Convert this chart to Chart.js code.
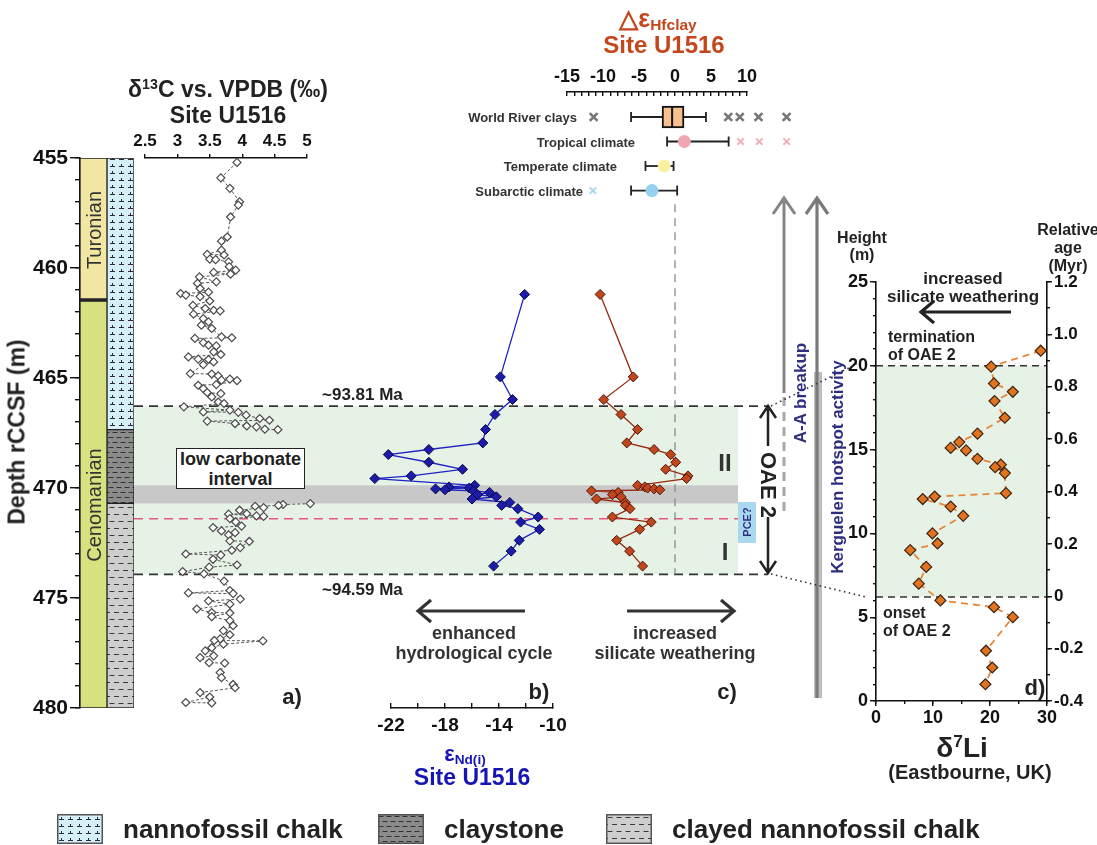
<!DOCTYPE html>
<html>
<head>
<meta charset="utf-8">
<script src="https://cdn.jsdelivr.net/npm/chart.js@4.4.1/dist/chart.umd.min.js"></script>
<style>
  html, body { margin: 0; padding: 0; background: #fff; }
  #stage { position: relative; width: 1097px; height: 845px; overflow: hidden;
           font-family: "Liberation Sans", Arial, sans-serif; color: #222; }
  #stage canvas, #stage svg { position: absolute; left: 0; top: 0; }
  .note { position: absolute; white-space: nowrap; line-height: 1; }
  .note sup { font-size: 0.62em; vertical-align: 0.55em; line-height: 0; }
  .note sub { font-size: 0.62em; vertical-align: -0.25em; line-height: 0; }
  .lowc { position: absolute; left: 176px; top: 448px; width: 127px; height: 39px; border: 1.6px solid #222;
          background: #fff; font-weight: bold; font-size: 18px; line-height: 20px; text-align: center; }
  .pce { position: absolute; left: 738px; top: 502px; width: 18px; height: 41px; background: #a9d8ef; }
</style>
</head>
<body>
<div id="stage">
  <canvas id="zones" width="1097" height="845"></canvas>
  <canvas id="lith" width="1097" height="845"></canvas>
  <canvas id="c13" width="1097" height="845"></canvas>
  <canvas id="ndAxis" width="1097" height="845"></canvas>
  <canvas id="nd" width="1097" height="845"></canvas>
  <canvas id="hf" width="1097" height="845"></canvas>
  <canvas id="hfAxis" width="1097" height="845"></canvas>
  <canvas id="clays" width="1097" height="845"></canvas>
  <canvas id="li" width="1097" height="845"></canvas>
  <svg width="1097" height="845">
    <g fill="none">
      <!-- panel b / c direction arrows -->
      <path d="M525 611H419 M431 600L418 611L431 622" stroke="#333" stroke-width="3.2"/>
      <path d="M627 611H733 M721 600L734 611L721 622" stroke="#333" stroke-width="3.2"/>
      <!-- panel d arrow -->
      <path d="M1011 312H922 M934 301L921 312L934 323" stroke="#222" stroke-width="3.2"/>
      <!-- OAE 2 bracket -->
      <path d="M768 446V409 M760 418L768 406L776 418" stroke="#222" stroke-width="2.5"/>
      <path d="M768 517V571 M760 561L768 573L776 561" stroke="#222" stroke-width="2.5"/>
      <!-- A-A breakup -->
      <path d="M784 393V200 M773 214L784 198L795 214" stroke="#858585" stroke-width="3"/>
      <path d="M784 397V517" stroke="#a8a8a8" stroke-width="3" stroke-dasharray="9 6"/>
      <!-- Kerguelen hotspot activity -->
      <rect x="814" y="372" width="8" height="326" fill="#bdbdbd"/>
      <path d="M817 698V200 M806 214L817 198L828 214" stroke="#7a7a7a" stroke-width="3.2"/>
      <!-- connectors to panel d -->
      <path d="M771 406L857 364 M771 574L866 597" stroke="#333" stroke-width="1.6" stroke-dasharray="1.5 3.5"/>
    </g>
  </svg>
  <div class="lowc">low carbonate<br>interval</div>
  <div class="pce"></div>
</div>
<script>
// ---- data ----
// lithology column (depth rCCSF, m)
const stageNames = ["Turonian", "Cenomanian"];
const stageTop = [455, 461.5];
const stageBase = [461.5, 480];
const lithNames = ["nannofossil chalk", "claystone", "clayed nannofossil chalk"];
const lithTop = [455, 467.35, 470.7];
const lithBase = [467.35, 470.7, 480];

// intervals
const oaeTop = 466.28;      // ~93.81 Ma
const oaeBase = 473.93;     // ~94.59 Ma
const lowCarbTop = 469.88;
const lowCarbBase = 470.7;
const pceDepth = 471.4;

// a) d13C
const c13Depth = [455.2, 455.9, 456.38, 456.99, 457.14, 457.68, 458.59, 458.78, 459.19, 459.38, 459.41, 459.6,
  459.62, 459.72, 459.94, 460.1, 460.2, 460.28, 460.4, 460.63, 460.7, 460.93, 461.1, 461.16, 461.23, 461.3,
  461.5, 461.7, 461.84, 461.92, 461.95, 462.1, 462.3, 462.45, 462.6, 462.75, 463.13, 463.17, 463.2, 463.39,
  463.51, 463.54, 463.81, 463.93, 464.04, 464.14, 464.16, 464.27, 464.39, 464.8, 464.82, 464.9, 465.05, 465.1,
  465.12, 465.3, 465.33, 465.48, 465.66, 465.71, 465.86, 466.09, 466.16, 466.31, 466.46, 466.54, 466.56, 466.69,
  466.84, 466.92, 466.96, 467.07, 467.18, 467.22, 467.33, 467.35,
  469,
  470.71, 470.75, 470.79, 470.83, 470.89, 471.01, 471.17, 471.19, 471.27, 471.29, 471.39, 471.54, 471.73, 471.8,
  471.95, 472.03, 472.13, 472.4, 472.43, 472.71, 472.83, 473.0, 473.05, 473.24, 473.5, 473.6, 473.8, 473.9,
  474.23, 474.66, 474.77, 474.8, 475.05, 475.13, 475.28, 475.5, 475.66, 475.68, 475.85, 476.03, 476.26, 476.48,
  476.67, 476.86, 476.93, 476.95, 477.1, 477.26, 477.4, 477.63, 477.71, 477.94, 477.96, 478.39, 478.62, 478.93,
  479.08, 479.3, 479.5, 479.75, 479.77];
const c13Value = [3.92, 3.67, 3.81, 3.96, 3.94, 3.82, 3.77, 3.68, 3.68, 3.46, 3.72, 3.50,
  3.59, 3.79, 3.80, 3.90, 3.56, 3.82, 3.34, 3.60, 3.31, 3.35, 3.48, 3.05, 3.13, 3.35,
  3.50, 3.24, 3.43, 3.56, 3.66, 3.25, 3.40, 3.48, 3.37, 3.53, 3.68, 3.84, 3.27, 3.40,
  3.48, 3.60, 3.56, 3.67, 3.17, 3.32, 3.48, 3.56, 3.40, 3.20, 3.53, 3.63, 3.81, 3.68,
  3.92, 3.60, 3.32, 3.40, 3.46, 3.67, 3.53, 3.63, 3.72, 3.10, 3.81, 3.40, 3.94, 4.06,
  4.27, 4.42, 3.46, 3.89, 4.07, 4.22, 4.35, 4.55,
  null,
  5.05, 4.63, 4.56, 4.20, 4.33, 3.96, 4.07, 3.79, 4.22, 4.33, 3.81, 3.90, 3.99, 3.55,
  3.68, 3.89, 3.79, 3.81, 4.11, 3.97, 3.84, 3.13, 3.67, 3.55, 3.92, 3.49, 3.08, 3.41,
  3.72, 3.81, 3.17, 3.86, 3.97, 3.48, 3.81, 3.30, 3.53, 3.81, 3.53, 3.81, 3.86, 3.71,
  3.81, 3.66, 3.57, 4.32, 3.71, 3.53, 3.43, 3.56, 3.35, 3.49, 3.73, 3.66, 3.68, 3.86,
  3.89, 3.35, 3.50, 3.13, 3.53];
const depthTicks = [455, 460, 465, 470, 475, 480];
const c13Ticks = [2.5, 3, 3.5, 4, 4.5, 5];

// b) eNd(i) and c) dEHf clay, same samples
const ndDepth = [461.2, 464.95, 465.98, 466.66, 467.34, 467.95, 468.25, 468.48, 468.83, 469.15, 469.45, 469.57,
  469.88, 469.95, 470.0, 470.04, 470.08, 470.13, 470.2, 470.3, 470.4, 470.5, 470.66, 470.79, 470.94, 471.32,
  471.55, 471.88, 472.38, 472.87, 473.55];
const epsNd = [-12.1, -13.9, -13.0, -14.3, -15.0, -15.2, -19.2, -22.2, -19.2, -16.7, -20.5, -23.2,
  -15.8, -17.7, -16.2, -18.7, -18.0, -15.9, -14.7, -15.6, -14.2, -16.0, -13.2, -13.8, -12.6, -11.1,
  -12.4, -11.0, -12.5, -13.1, -14.4];
const dEpsHf = [-10.4, -5.8, -9.9, -7.5, -5.2, -6.7, -2.9, -0.6, 0.1, -1.3, 1.8, 1.6,
  -5.2, -4.2, -3.8, -2.9, -2.1, -11.6, -7.9, -8.7, -7.5, -10.9, -6.9, -6.9, -6.25, -8.7,
  -3.3, -4.9, -8.1, -6.3, -4.5];
const ndTicks = [-22, -20, -18, -16, -14, -12, -10];
const ndLabelled = [-22, -18, -14, -10];
const hfZeroLine = [457.1, oaeBase];

// reference clays (dEHf clay)
const climateRows = ["World River clays", "Tropical climate", "Temperate climate", "Subarctic climate"];
const riverBox = [-1.8, 1.25];
const riverMedian = -0.4;
const rangeLow = [-6.1, -1.1, -4.1, -6.1];
const rangeHigh = [4.3, 7.45, -0.2, 0.3];
const climateMean = [null, 1.3, -1.5, -3.2];
const riverOutliers = [-11.3, 7.4, 9.0, 11.6, 15.5];
const tropicalOutliers = [9.1, 11.7, 15.5];
const subarcticOutliers = [-11.4];
const hfTicks = [-15, -14, -13, -12, -11, -10, -9, -8, -7, -6, -5, -4, -3, -2, -1, 0, 1, 2, 3, 4, 5, 6, 7, 8, 9, 10];

// d) d7Li, Eastbourne
const liHeight = [20.9, 19.95, 18.95, 18.45, 17.9, 16.9, 15.95, 15.45, 15.1, 14.95, 14.45, 14.1, 13.95, 13.6,
  12.4, 12.2, 12.05, 11.6, 11.05, 10.0, 9.4, 9.0, 8.0, 7.0, 6.0, 5.6, 5.0, 3.0, 2.0, 1.0];
const liValue = [28.9, 20.2, 20.7, 24.0, 20.8, 22.6, 17.8, 14.6, 13.1, 15.8, 17.8, 21.9, 20.9, 22.6,
  22.8, 10.3, 8.2, 13.1, 15.3, 9.9, 10.8, 6.0, 8.8, 7.5, 11.3, 20.7, 24.0, 19.3, 20.4, 19.2];
const liOnset = 6.2;
const liTermination = 20;
const liTicks = [0, 10, 20, 30];
const heightTicks = [0, 5, 10, 15, 20, 25];
const ageTicks = [-0.4, -0.2, 0, 0.2, 0.4, 0.6, 0.8, 1.0, 1.2];

// ---- helpers ----
const W = 1097, H = 845;
Chart.defaults.font.family = '"Liberation Sans", Arial, sans-serif';
Chart.defaults.font.weight = "bold";
Chart.defaults.color = "#1a1a1a";
Chart.defaults.animation = false;
Chart.defaults.plugins.legend.display = false;
Chart.defaults.plugins.tooltip.enabled = false;

// plot box in page pixels -> layout padding (room = space the axes take on each side)
function area(x0, y0, x1, y1, room) {
  room = Object.assign({ left: 0, top: 0, right: 0, bottom: 0 }, room);
  return { left: x0 - room.left, top: y0 - room.top, right: W - x1 - room.right, bottom: H - y1 - room.bottom };
}
function steps(a, b, d) {
  const out = [];
  for (let v = a; v <= b + 1e-9; v += d) out.push(+v.toFixed(3));
  return out;
}
// labelled axes take a fixed room, minor-tick axes take none and sit next to the plot
function axis(position, min, max, values, o) {
  o = o || {};
  const room = o.labels === false ? 0 : (o.room || 50);
  return {
    type: "linear", position, min, max, reverse: !!o.reverse, weight: o.labels === false ? 0 : 1,
    afterFit: s => {
      if (s.isHorizontal()) s.height = room; else s.width = room;
      s.paddingLeft = s.paddingRight = s.paddingTop = s.paddingBottom = 0;
    },
    afterBuildTicks: s => { s.ticks = values.map(v => ({ value: v })); },
    border: { display: o.border !== false, color: "#111", width: 1.6 },
    grid: { drawOnChartArea: false, color: "#111", lineWidth: 1.4, tickLength: o.tl === undefined ? 6 : o.tl },
    ticks: {
      display: o.labels !== false, padding: o.pad === undefined ? 3 : o.pad, color: "#111",
      font: { size: o.fs || 18, weight: "bold" }, autoSkip: false, maxRotation: 0,
      callback: o.cb || (v => v)
    }
  };
}
function hidden(min, max, reverse) {
  return { type: "linear", display: false, min, max, reverse: !!reverse, offset: false, grid: { offset: false } };
}
function depthY() { return hidden(455, 480, true); }
// same value-to-pixel mapping as an axis from p0..p1, stretched to q0..q1 so marks past the axis ends still draw
function widen(min, max, p0, p1, q0, q1) {
  const k = (max - min) / (p1 - p0);
  return [min - (p0 - q0) * k, max + (q1 - p1) * k];
}

// ---- lithology patterns ----
const lithCtx = document.getElementById("lith").getContext("2d");
function tile(w, h, bg, ink, draw) {
  const c = document.createElement("canvas");
  c.width = w; c.height = h;
  const g = c.getContext("2d");
  g.fillStyle = bg; g.fillRect(0, 0, w, h);
  g.strokeStyle = ink; g.lineWidth = 1;
  g.beginPath(); draw(g); g.stroke();
  return c;
}
const lithTiles = [
  tile(9, 7, "#d7eff9", "#2a2a3a", g => { g.moveTo(2, 5.5); g.lineTo(7, 5.5); g.moveTo(4.5, 3); g.lineTo(4.5, 5.5); }),
  tile(8, 10, "#8b8b8b", "#333", g => { g.moveTo(0.5, 2.5); g.lineTo(5.5, 2.5); g.moveTo(4.5, 7.5); g.lineTo(8, 7.5); g.moveTo(0, 7.5); g.lineTo(1.5, 7.5); }),
  tile(9, 14, "#cecece", "#3a3a3a", g => { g.moveTo(1.5, 3.5); g.lineTo(6.5, 3.5); g.moveTo(6, 10.5); g.lineTo(9, 10.5); g.moveTo(0, 10.5); g.lineTo(2, 10.5); })
];
const stageColors = ["#f1e7a3", "#d7e17f"];

// ---- background intervals (panels a-c) ----
const zonePlugin = {
  id: "zones",
  beforeDraw(chart) {
    const { ctx, chartArea: a } = chart;
    const py = v => chart.scales.y.getPixelForValue(v);
    ctx.save();
    ctx.fillStyle = "#e6f2e6";
    ctx.fillRect(a.left, py(oaeTop), a.right - a.left, py(oaeBase) - py(oaeTop));
    ctx.fillStyle = "#c8c8c8";
    ctx.fillRect(a.left, py(lowCarbTop), a.right - a.left, py(lowCarbBase) - py(lowCarbTop));
    const dashed = (v, x1, color, w) => {
      ctx.strokeStyle = color; ctx.lineWidth = w; ctx.setLineDash([9, 6]);
      ctx.beginPath(); ctx.moveTo(a.left, py(v)); ctx.lineTo(x1, py(v)); ctx.stroke();
    };
    dashed(pceDepth, a.right, "#e4577a", 1.5);
    dashed(oaeTop, a.right + 30, "#333", 1.8);
    dashed(oaeBase, a.right + 30, "#333", 1.8);
    ctx.restore();
  }
};
new Chart(document.getElementById("zones"), {
  type: "scatter",
  data: { datasets: [] },
  options: {
    responsive: false,
    layout: { padding: area(134, 158, 738, 708) },
    scales: { x: hidden(0, 1), y: depthY() }
  },
  plugins: [zonePlugin]
});

// ---- stage + lithology columns with depth axis ----
const barBase = { grouped: false, barPercentage: 1, categoryPercentage: 1, borderColor: "#222", borderSkipped: false };
new Chart(lithCtx, {
  type: "bar",
  data: {
    labels: ["stage", "lithology"],
    datasets: [
      ...stageNames.map((n, i) => Object.assign({
        label: n, data: [[stageTop[i], stageBase[i]], null], backgroundColor: stageColors[i],
        borderWidth: i === 0 ? { top: 1, left: 1, right: 1, bottom: 3 } : 1
      }, barBase)),
      ...lithNames.map((n, i) => Object.assign({
        label: n, data: [null, [lithTop[i], lithBase[i]]],
        backgroundColor: lithCtx.createPattern(lithTiles[i], "repeat"), borderWidth: 1
      }, barBase))
    ]
  },
  options: {
    responsive: false,
    layout: { padding: area(80, 158, 134, 708, { left: 60 }) },
    scales: {
      x: { display: false },
      y: axis("left", 455, 480, depthTicks, { reverse: true, tl: 10, pad: 2, fs: 21, room: 60 }),
      yMinor: axis("left", 455, 480, steps(455, 480, 1), { reverse: true, tl: 5, labels: false, border: false })
    }
  }
});

// ---- a) d13C ----
new Chart(document.getElementById("c13"), {
  type: "scatter",
  data: {
    datasets: [{
      data: c13Depth.map((d, i) => ({ x: c13Value[i], y: d })),
      showLine: true, spanGaps: false, clip: false,
      borderColor: "#555", borderWidth: 1, borderDash: [3, 2],
      pointStyle: "rectRot", pointRadius: 4, pointBorderWidth: 1.2,
      pointBorderColor: "#4a4a4a", pointBackgroundColor: "#fff"
    }]
  },
  options: {
    responsive: false,
    layout: { padding: area(145, 158, 307, 708, { top: 50 }) },
    scales: {
      x: axis("top", 2.5, 5, c13Ticks, { tl: 4, pad: 2, fs: 17 }),
      y: depthY()
    }
  }
});

// ---- b) eNd(i): axis, then data on a wider hidden scale ----
new Chart(document.getElementById("ndAxis"), {
  type: "scatter",
  data: { datasets: [] },
  options: {
    responsive: false,
    layout: { padding: area(391, 158, 553, 708, { bottom: 40 }) },
    scales: {
      x: axis("bottom", -22, -10, ndTicks, { tl: -5, pad: 11, fs: 19, room: 40, cb: v => ndLabelled.includes(v) ? v : "" }),
      y: depthY()
    }
  }
});
const ndRange = widen(-22, -10, 391, 553, 360, 553);
new Chart(document.getElementById("nd"), {
  type: "scatter",
  data: {
    datasets: [{
      data: ndDepth.map((d, i) => ({ x: epsNd[i], y: d })),
      showLine: true, clip: false,
      borderColor: "#1f22c4", borderWidth: 1.3,
      pointStyle: "rectRot", pointRadius: 5, pointBorderWidth: 1,
      pointBorderColor: "#07074a", pointBackgroundColor: "#1c1ca8"
    }]
  },
  options: {
    responsive: false,
    layout: { padding: area(360, 158, 553, 708) },
    scales: { x: hidden(ndRange[0], ndRange[1]), y: depthY() }
  }
});

// ---- c) dEHf clay down-core ----
new Chart(document.getElementById("hf"), {
  type: "scatter",
  data: {
    datasets: [{
      data: ndDepth.map((d, i) => ({ x: dEpsHf[i], y: d })),
      showLine: true, clip: false,
      borderColor: "#9a2a12", borderWidth: 1.3,
      pointStyle: "rectRot", pointRadius: 5, pointBorderWidth: 1,
      pointBorderColor: "#4a1808", pointBackgroundColor: "#c2461d"
    }, {
      data: hfZeroLine.map(d => ({ x: 0, y: d })),
      showLine: true, clip: false, pointRadius: 0,
      borderColor: "#8a8a8a", borderWidth: 1.3, borderDash: [8, 6]
    }]
  },
  options: {
    responsive: false,
    layout: { padding: area(567, 158, 747, 708) },
    scales: { x: hidden(-15, 10), y: depthY() }
  }
});

// ---- c) reference clays: axis, then box and ranges on a wider hidden scale ----
new Chart(document.getElementById("hfAxis"), {
  type: "scatter",
  data: { datasets: [] },
  options: {
    responsive: false,
    layout: { padding: area(567, 92, 747, 205, { top: 60 }) },
    scales: {
      x: axis("top", -15, 10, hfTicks, { tl: -4, pad: 8, fs: 18, room: 60, cb: v => v % 5 === 0 ? v : "" }),
      y: hidden(-1.02, 3.59, true)
    }
  }
});
const clayRange = widen(-15, 10, 567, 747, 567, 800);
const capStyle = { showLine: true, clip: false, borderColor: "#222", borderWidth: 1.8,
  pointStyle: "line", pointRotation: 90, pointRadius: 5, pointBorderWidth: 1.8, pointBorderColor: "#222" };
const meanColors = [null, "#f0a8b0", "#faf1a0", "#95d0ef"];
const crossStyle = (color, r, w) => ({ clip: false, pointStyle: "crossRot", pointRadius: r,
  pointBorderWidth: w, pointBorderColor: color, showLine: false });
new Chart(document.getElementById("clays"), {
  type: "scatter",
  data: {
    datasets: [
      { data: [{ x: riverMedian, y: 0 }], clip: false, pointStyle: "line", pointRotation: 90,
        pointRadius: 11, pointBorderWidth: 2, pointBorderColor: "#111" },
      { type: "bar", indexAxis: "y", data: [{ x: riverBox, y: 0 }], barThickness: 22,
        backgroundColor: "#f7bf8e", borderColor: "#111", borderWidth: 2, borderSkipped: false },
      { data: climateMean.map((m, r) => m === null ? null : { x: m, y: r }).filter(p => p), clip: false,
        pointRadius: 6.5, pointBorderWidth: 0,
        pointBackgroundColor: climateMean.map((m, r) => meanColors[r]).filter(c => c) },
      ...rangeLow.map((lo, r) => Object.assign({ data: [{ x: lo, y: r }, { x: rangeHigh[r], y: r }] }, capStyle)),
      Object.assign({ data: riverOutliers.map(v => ({ x: v, y: 0 })) }, crossStyle("#767676", 5.5, 2.6)),
      Object.assign({ data: tropicalOutliers.map(v => ({ x: v, y: 1 })) }, crossStyle("#efb0b8", 4.5, 2)),
      Object.assign({ data: subarcticOutliers.map(v => ({ x: v, y: 3 })) }, crossStyle("#a9d8ef", 4.5, 2))
    ]
  },
  options: {
    responsive: false,
    layout: { padding: area(567, 92, 800, 205) },
    scales: {
      x: hidden(clayRange[0], clayRange[1]),
      y: hidden(-1.02, 3.59, true)
    }
  }
});

// ---- d) d7Li Eastbourne ----
const liZones = {
  id: "liZones",
  beforeDraw(chart) {
    const { ctx, chartArea: a } = chart;
    const py = v => chart.scales.y.getPixelForValue(v);
    ctx.save();
    ctx.fillStyle = "#e6f2e6";
    ctx.fillRect(a.left, py(liTermination), a.right - a.left, py(liOnset) - py(liTermination));
    ctx.strokeStyle = "#333"; ctx.lineWidth = 1.5; ctx.setLineDash([7, 5]);
    [liTermination, liOnset].forEach(v => {
      ctx.beginPath(); ctx.moveTo(a.left, py(v)); ctx.lineTo(a.right, py(v)); ctx.stroke();
    });
    ctx.restore();
  }
};
new Chart(document.getElementById("li"), {
  type: "scatter",
  data: {
    datasets: [{
      data: liHeight.map((h, i) => ({ x: liValue[i], y: h })),
      showLine: true, clip: false,
      borderColor: "#e8873a", borderWidth: 1.8, borderDash: [7, 5],
      pointStyle: "rectRot", pointRadius: 5.5, pointBorderWidth: 1.2,
      pointBorderColor: "#3b2412", pointBackgroundColor: "#e2741f"
    }]
  },
  options: {
    responsive: false,
    layout: { padding: area(876, 282, 1047, 701, { left: 50, bottom: 40, right: 46 }) },
    scales: {
      x: axis("bottom", 0, 30, liTicks, { tl: 5, pad: 1, fs: 18, room: 40 }),
      xMinor: axis("bottom", 0, 30, steps(0, 30, 5), { tl: 3, labels: false, border: false }),
      y: axis("left", 0, 25, heightTicks, { tl: 6, pad: 2, fs: 18, room: 50 }),
      yMinor: axis("left", 0, 25, steps(0, 25, 1), { tl: 3, labels: false, border: false }),
      y2: axis("right", -0.4, 1.2, ageTicks, { tl: 5, pad: 2, fs: 17, room: 46, cb: v => v === 0 ? "0" : v.toFixed(1) }),
      y2Minor: axis("right", -0.4, 1.2, steps(-0.4, 1.2, 0.1), { tl: 3, labels: false, border: false })
    }
  },
  plugins: [liZones]
});

// ---- text ----
const stage = document.getElementById("stage");
function note(html, x, y, size, o) {
  o = o || {};
  const d = document.createElement("div");
  d.className = "note";
  d.innerHTML = html;
  const tx = o.align === "left" ? "0" : o.align === "right" ? "-100%" : "-50%";
  d.style.left = x + "px";
  d.style.top = y + "px";
  d.style.fontSize = size + "px";
  d.style.fontWeight = o.weight || "bold";
  d.style.color = o.color || "#222";
  d.style.transform = `translate(${tx},-50%)` + (o.rot ? ` rotate(${o.rot}deg)` : "");
  stage.appendChild(d);
  return d;
}
const NAVY = "#2e2e80", BLUE = "#1515b5", RUST = "#c4461c";

note("δ<sup>13</sup>C vs. VPDB (‰)", 228, 89, 23);
note("Site U1516", 228, 115, 23);
note("Depth rCCSF (m)", 17, 432, 23, { rot: -90 });
note(stageNames[0], 94, 230, 20, { rot: -90, weight: "normal", color: "#333" });
note(stageNames[1], 94, 505, 20, { rot: -90, weight: "normal", color: "#333" });
note("~93.81 Ma", 322, 394, 17, { align: "left" });
note("~94.59 Ma", 322, 589, 17, { align: "left" });
note("a)", 292, 697, 22);

note("enhanced", 474, 633, 18, { color: "#333" });
note("hydrological cycle", 474, 653, 18, { color: "#333" });
note("increased", 675, 633, 18, { color: "#333" });
note("silicate weathering", 675, 653, 18, { color: "#333" });
note("b)", 539, 692, 22);
note("c)", 727, 692, 22);
note("ε<sub>Nd(i)</sub>", 465, 754, 22, { color: BLUE });
note("Site U1516", 472, 777, 23, { color: BLUE });

note("△ε<sub>Hfclay</sub>", 658, 18, 25, { color: RUST });
note("Site U1516", 664, 45, 24, { color: RUST });
note(climateRows[0], 577, 117, 13, { align: "right", color: "#333" });
note(climateRows[1], 635, 141.5, 13, { align: "right", color: "#333" });
note(climateRows[2], 617, 166, 13, { align: "right", color: "#333" });
note(climateRows[3], 583, 190.5, 13, { align: "right", color: "#333" });

note("II", 725, 463, 24, { color: "#333" });
note("I", 725, 552, 24, { color: "#333" });
note("PCE?", 747, 522, 11, { rot: -90, color: NAVY });
note("OAE 2", 768, 485, 22, { rot: 90 });
note("A-A breakup", 800, 393, 17, { rot: -90, color: NAVY });
note("Kerguelen hotspot activity", 837, 467, 17, { rot: -90, color: NAVY });

note("Height", 862, 238, 16);
note("(m)", 862, 255, 16);
note("Relative", 1068, 230, 16);
note("age", 1068, 248, 16);
note("(Myr)", 1068, 266, 16);
note("increased", 963, 278, 17);
note("silicate weathering", 963, 296, 17);
note("termination", 888, 337, 16, { align: "left" });
note("of OAE 2", 888, 355, 16, { align: "left" });
note("onset", 883, 613, 16, { align: "left" });
note("of OAE 2", 883, 631, 16, { align: "left" });
note("d)", 1035, 688, 22);
note("δ<sup>7</sup>Li", 962, 748, 28);
note("(Eastbourne, UK)", 970, 772, 20);

// ---- lithology legend ----
const legendX = [57, 378, 606];
lithNames.forEach((n, i) => {
  const c = document.createElement("canvas");
  c.width = 46; c.height = 30;
  c.style.left = legendX[i] + "px";
  c.style.top = "814px";
  const g = c.getContext("2d");
  g.fillStyle = g.createPattern(lithTiles[i], "repeat");
  g.fillRect(0, 0, 46, 30);
  g.strokeStyle = "#555"; g.lineWidth = 1.5;
  g.strokeRect(0.75, 0.75, 44.5, 28.5);
  stage.appendChild(c);
  note(n, legendX[i] + 66, 829, 26, { align: "left" });
});
</script>
</body>
</html>
